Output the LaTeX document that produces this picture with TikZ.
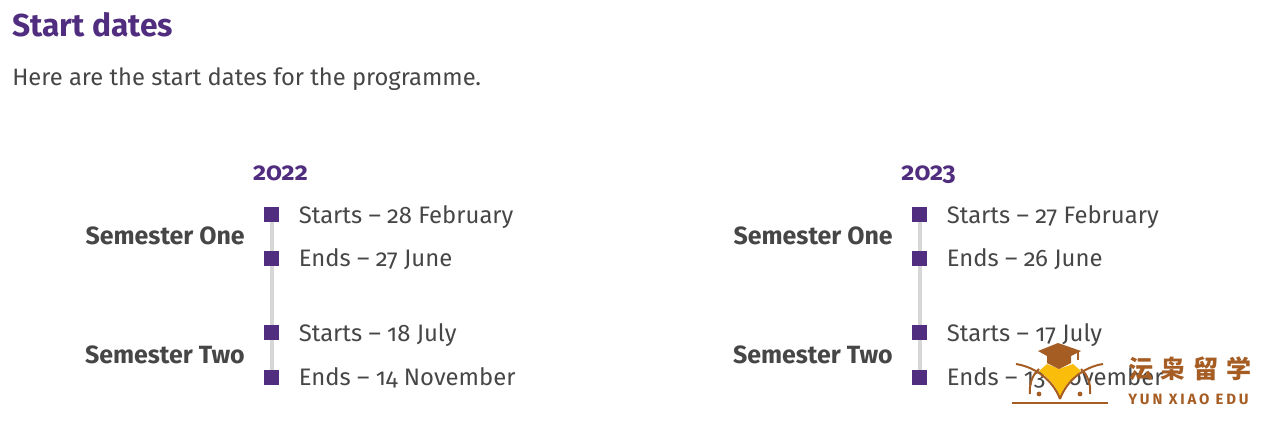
\documentclass[tikz,border=0pt]{standalone}
\usepackage{fontspec}
\setmainfont[Numbers=OldStyle]{Fira Sans}
\newfontfamily\cjkfont[LetterSpace=30]{Noto Sans CJK SC}
\newfontfamily\logofont[LetterSpace=19]{Fira Sans}
\usetikzlibrary{positioning}
\definecolor{titlepurple}{RGB}{80,45,127}
\definecolor{bodygrey}{RGB}{70,70,70}
\definecolor{linegrey}{RGB}{215,215,215}
\definecolor{logobrown}{RGB}{166,93,36}
\definecolor{logoyellow}{RGB}{250,190,10}
\tikzset{
  semlabel/.style={anchor=base east, font=\fontsize{18.7}{22}\selectfont\bfseries, text=bodygrey, inner sep=0pt},
  datelabel/.style={anchor=base west, font=\fontsize{17.9}{22}\selectfont, text=bodygrey, inner sep=0pt},
  yearlabel/.style={anchor=base, font=\fontsize{19}{22}\selectfont\bfseries, text=titlepurple, inner sep=0pt},
  marker/.style={fill=titlepurple, minimum size=11.25pt, inner sep=0pt, outer sep=0pt},
  spine/.style={linegrey, line width=3pt},
  logoline/.style={logobrown, line width=1.5pt}
}
\begin{document}
\begin{tikzpicture}[x=0.75pt, y=-0.75pt]
    \useasboundingbox (0,0) rectangle (1270,436);

    % Heading
    \node[anchor=base west, inner sep=0pt, text=titlepurple, font=\fontsize{23.8}{28}\selectfont\bfseries] (title) at (12,36) {Start dates};
    \node[anchor=base west, inner sep=0pt, text=bodygrey, font=\fontsize{17.8}{22}\selectfont] (intro) at (12,85) {Here are the start dates for the programme.};

    % 2022 column
    \node[yearlabel] (yearA) at (280.5,180) {2022};
    \node[marker] (mA1) at (271.5,214) {};
    \node[marker] (mA2) at (271.5,258.5) {};
    \node[marker] (mA3) at (271.5,332.5) {};
    \node[marker] (mA4) at (271.5,377.5) {};
    \draw[spine] (mA1) -- (mA2);
    \draw[spine] (mA2) -- (mA3);
    \draw[spine] (mA3) -- (mA4);
    \node[semlabel] (semA1) at (245,244) {Semester One};
    \node[semlabel] (semA2) at (245,363) {Semester Two};
    \node[datelabel] (dateA1) at (298.5,223) {Starts – 28 February};
    \node[datelabel] (dateA2) at (298.5,266) {Ends – 27 June};
    \node[datelabel] (dateA3) at (298.5,341) {Starts – 18 July};
    \node[datelabel] (dateA4) at (298.5,385) {Ends – 14 November};

    % 2023 column
    \node[yearlabel] (yearB) at (928.5,180) {2023};
    \node[marker] (mB1) at (919.5,214) {};
    \node[marker] (mB2) at (919.5,258.5) {};
    \node[marker] (mB3) at (919.5,332.5) {};
    \node[marker] (mB4) at (919.5,377.5) {};
    \draw[spine] (mB1) -- (mB2);
    \draw[spine] (mB2) -- (mB3);
    \draw[spine] (mB3) -- (mB4);
    \node[semlabel] (semB1) at (893,244) {Semester One};
    \node[semlabel] (semB2) at (893,363) {Semester Two};
    \node[datelabel] (dateB1) at (946.5,223) {Starts – 27 February};
    \node[datelabel] (dateB2) at (946.5,266) {Ends – 26 June};
    \node[datelabel] (dateB3) at (946.5,341) {Starts – 17 July};
    \node[datelabel] (dateB4) at (946.5,385) {Ends – 13 November};

    % Logo
    \fill[logoyellow] (1039,371) -- (1047,364) -- (1059,369) -- (1073,364) -- (1081,371) .. controls (1072,378) and (1063,386) .. (1060,398) .. controls (1057,386) and (1048,378) .. (1039,371) -- cycle;
    \fill[logobrown] (1058,343) -- (1081,351) -- (1071,356) -- (1071,363) -- (1059,369) -- (1047,363) -- (1047,356) -- (1038,351) -- cycle;
    \draw[logobrown, line width=0.9pt] (1078,352) -- (1078,360);
    \draw[logoline] (1016,364) .. controls (1035,367) and (1053,380) .. (1060,399);
    \draw[logoline] (1103,364) .. controls (1084,367) and (1067,380) .. (1060,399);
    \draw[logoline] (1039,369) .. controls (1032,375) and (1029,385) .. (1030,394);
    \draw[logoline] (1081,369) .. controls (1088,375) and (1091,385) .. (1090,394);
    \fill[logobrown] (1039,394) circle (2.4);
    \fill[logobrown] (1080,394) circle (2.4);
    \draw[logoline] (1012,403) -- (1108,403);
    \node[anchor=west, inner sep=0pt, text=logobrown, font=\cjkfont\fontsize{18.8}{20}\selectfont\bfseries] (logocn) at (1128,368.5) {沄枭留学};
    \node[anchor=base west, inner sep=0pt, text=logobrown, font=\logofont\fontsize{11.2}{13}\selectfont\bfseries] (logoen) at (1128,404.5) {YUN XIAO EDU};
\end{tikzpicture}
\end{document}
